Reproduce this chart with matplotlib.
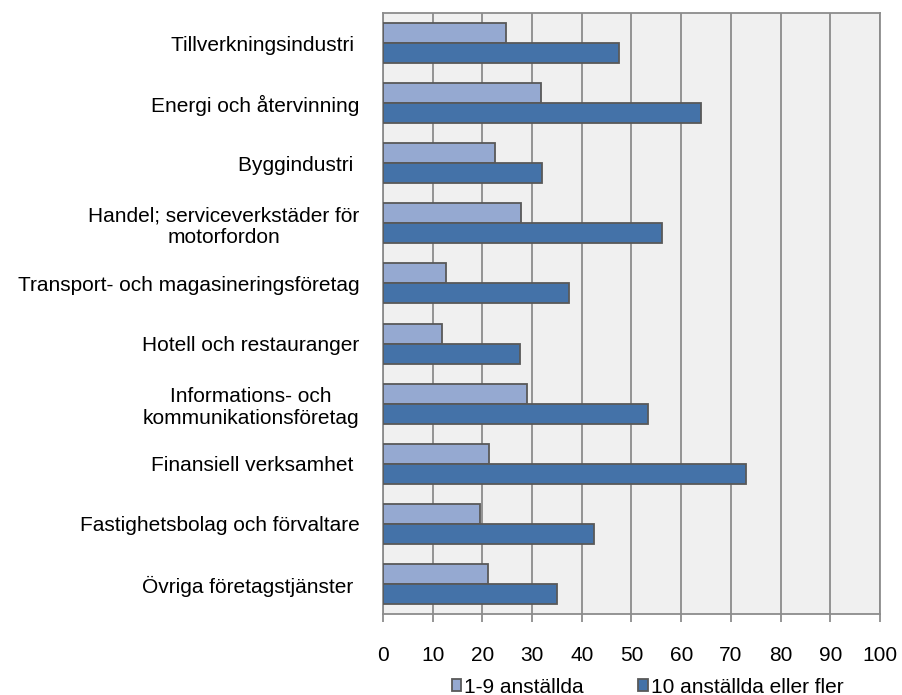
import numpy as np
import matplotlib
matplotlib.use("Agg")
import matplotlib.pyplot as plt

plt.rcParams['font.family'] = ['Liberation Sans', 'DejaVu Sans']

categories = [
    "Tillverkningsindustri ",
    "Energi och återvinning",
    "Byggindustri ",
    "Handel; serviceverkstäder för\nmotorfordon",
    "Transport- och magasineringsföretag",
    "Hotell och restauranger",
    "Informations- och\nkommunikationsföretag",
    "Finansiell verksamhet ",
    "Fastighetsbolag och förvaltare",
    "Övriga företagstjänster ",
]
small = [24.7, 31.8, 22.6, 27.8, 12.6, 11.9, 29.0, 21.4, 19.5, 21.2]
large = [47.4, 63.9, 32.0, 56.1, 37.4, 27.5, 53.3, 73.1, 42.5, 35.1]
series_names = ["1-9 anställda", "10 anställda eller fler"]
xticks = list(range(0, 101, 10))

fig = plt.figure(figsize=(9.02, 6.95), dpi=100)
ax = fig.add_axes([0.4246, 0.1165, 0.5510, 0.8648])

y = np.arange(len(categories))
h = 1 / 3
edge = "#595959"
ax.barh(y - h / 2, small, height=h, color="#95A9D1", edgecolor=edge, linewidth=1.3,
        label=series_names[0], zorder=3)
ax.barh(y + h / 2, large, height=h, color="#4472A8", edgecolor=edge, linewidth=1.3,
        label=series_names[1], zorder=3)

ax.set_facecolor("#F0F0F0")
ax.set_xlim(0, 100)
ax.set_ylim(len(categories) - 0.5, -0.5)
ax.set_xticks(xticks)
ax.set_yticks(y)
ax.set_yticklabels(categories, ha="right", multialignment="center", fontsize=15)
ax.xaxis.grid(True, color="#8C8C8C", linewidth=1.3, zorder=0)
ax.tick_params(axis="x", labelsize=15, length=6, color="#8C8C8C", pad=17, width=1.3)
ax.tick_params(axis="y", length=0, pad=17)
for s in ax.spines.values():
    s.set_color("#8C8C8C")
    s.set_linewidth(1.3)

fig.legend(loc="center", bbox_to_anchor=(0.718, 0.0115), ncol=2, frameon=False,
           fontsize=15, handlelength=0.45, handleheight=0.45, handletextpad=0.15,
           columnspacing=2.6, borderpad=0)

fig.savefig("out.png", dpi=100)
